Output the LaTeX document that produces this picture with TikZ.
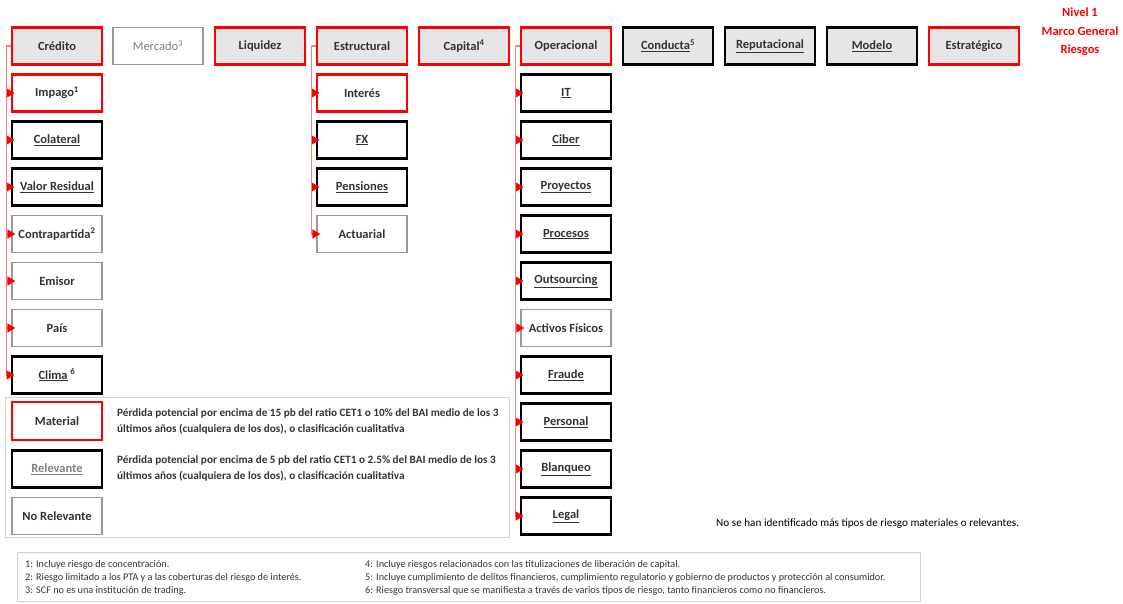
\documentclass[tikz,border=0pt]{standalone}
\usepackage{fontspec}
\setmainfont{Carlito}
\usetikzlibrary{arrows.meta}
\definecolor{boxgray}{HTML}{E6E6E6}
\definecolor{txt}{HTML}{333333}
\definecolor{lred}{HTML}{FF0000}
\definecolor{conncol}{HTML}{F47F7F}
\tikzset{
  base/.style={minimum width=90pt,minimum height=37pt,inner sep=0pt,font=\fontsize{12.5}{14}\selectfont\bfseries,text=txt},
  redbox/.style={base,draw=lred,line width=2.6pt},
  blkbox/.style={base,draw=black,line width=2.8pt},
  graybox/.style={base,draw=gray!80,line width=1.3pt},
  top/.style={fill=boxgray},
  conn/.style={draw=conncol,line width=1.3pt,shorten >=-4pt,-{Triangle[length=8pt,width=9pt,fill=lred,color=lred]}},
  desc/.style={anchor=north west,align=left,inner sep=0pt,font=\fontsize{11.2}{16}\selectfont\bfseries,text=txt},
  foot/.style={anchor=west,inner sep=0pt,font=\fontsize{10.2}{11}\selectfont,text=txt},
}
\begin{document}
\begin{tikzpicture}[x=1pt,y=-1pt]
\useasboundingbox (0,0) rectangle (1123,603);
% top row
\node[redbox,top] (credito) at (57,46) {Crédito};
\node[graybox] (mercado) at (158,46) {\mdseries\color{gray}Mercado\textsuperscript{3}};
\node[redbox,top] (liquidez) at (260,46) {Liquidez};
\node[redbox,top] (estructural) at (362,46) {Estructural};
\node[redbox,top] (capital) at (464,46) {Capital\textsuperscript{4}};
\node[redbox,top] (operacional) at (566,46) {Operacional};
\node[blkbox,top] (conducta) at (668,46) {\underline{Conducta}\textsuperscript{5}};
\node[blkbox,top] (reputacional) at (770,46) {\underline{Reputacional}};
\node[blkbox,top] (modelo) at (872,46) {\underline{Modelo}};
\node[redbox,top] (estrategico) at (974,46) {Estratégico};
\node[align=center,text=lred,font=\fontsize{12.5}{18.5}\selectfont\bfseries] (nivel) at (1080,32) {Nivel 1\\Marco General\\Riesgos};
% credito column
\node[redbox] (impago) at (57,93) {Impago\textsuperscript{1}};
\node[blkbox] (colateral) at (57,140) {\underline{Colateral}};
\node[blkbox] (valor) at (57,187) {\underline{Valor Residual}};
\node[graybox] (contra) at (57,234) {Contrapartida\textsuperscript{2}};
\node[graybox] (emisor) at (57,281) {Emisor};
\node[graybox] (pais) at (57,328) {País};
\node[blkbox] (clima) at (57,375) {\underline{Clima} \textsuperscript{6}};
\foreach \c in {impago,colateral,valor,contra,emisor,pais,clima}
  \draw[conn] (credito.west) -- ++(-4,0) |- (\c.west);
% estructural column
\node[redbox] (interes) at (362,93) {Interés};
\node[blkbox] (fx) at (362,140) {\underline{FX}};
\node[blkbox] (pensiones) at (362,187) {\underline{Pensiones}};
\node[graybox] (actuarial) at (362,234) {Actuarial};
\foreach \c in {interes,fx,pensiones,actuarial}
  \draw[conn] (estructural.west) -- ++(-4,0) |- (\c.west);
% operacional column
\node[blkbox] (it) at (566,93) {\underline{IT}};
\node[blkbox] (ciber) at (566,140) {\underline{Ciber}};
\node[blkbox] (proyectos) at (566,187) {\underline{Proyectos}};
\node[blkbox] (procesos) at (566,234) {\underline{Procesos}};
\node[blkbox] (outsourcing) at (566,281) {\underline{Outsourcing}};
\node[graybox] (activos) at (566,328) {Activos Físicos};
\node[blkbox] (fraude) at (566,375) {\underline{Fraude}};
\node[blkbox] (personal) at (566,422) {\underline{Personal}};
\node[blkbox] (blanqueo) at (566,469) {\underline{Blanqueo}};
\node[blkbox] (legal) at (566,516) {\underline{Legal}};
\foreach \c in {it,ciber,proyectos,procesos,outsourcing,activos,fraude,personal,blanqueo,legal}
  \draw[conn] (operacional.west) -- ++(-4,0) |- (\c.west);
% legend
\draw[gray!35,line width=1pt] (5,397) rectangle (509,537);
\node[redbox,minimum height=38pt] (material) at (57,421) {Material};
\node[blkbox] (relevante) at (57,469) {\color{gray}\underline{Relevante}};
\node[graybox] (norel) at (57,516) {No Relevante};
\node[desc] (dmat) at (117,408) {Pérdida potencial por encima de 15 pb del ratio CET1 o 10\% del BAI medio de los 3\\últimos años (cualquiera de los dos), o clasificación cualitativa};
\node[desc] (drel) at (117,455) {Pérdida potencial por encima de 5 pb del ratio CET1 o 2.5\% del BAI medio de los 3\\últimos años (cualquiera de los dos), o clasificación cualitativa};
\node[anchor=west,inner sep=0pt,font=\fontsize{11.2}{12}\selectfont,text=black] (nomas) at (716,524) {No se han identificado más tipos de riesgo materiales o relevantes.};
% footnotes
\draw[gray!35,line width=1pt] (17,552) rectangle (920,601);
\node[foot] (f1) at (25,565) {1: Incluye riesgo de concentración.};
\node[foot] (f2) at (25,578) {2: Riesgo limitado a los PTA y a las coberturas del riesgo de interés.};
\node[foot] (f3) at (25,591) {3: SCF no es una institución de trading.};
\node[foot] (f4) at (365,565) {4: Incluye riesgos relacionados con las titulizaciones de liberación de capital.};
\node[foot] (f5) at (365,578) {5: Incluye cumplimiento de delitos financieros, cumplimiento regulatorio y gobierno de productos y protección al consumidor.};
\node[foot] (f6) at (365,591) {6: Riesgo transversal que se manifiesta a través de varios tipos de riesgo, tanto financieros como no financieros.};
\end{tikzpicture}
\end{document}
